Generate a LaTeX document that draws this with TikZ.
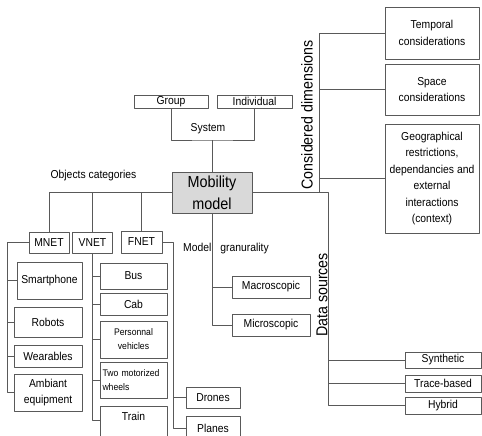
\documentclass[tikz,border=0pt]{standalone}
\usepackage{fontspec}
\setmainfont{Liberation Sans}[FakeStretch=0.9]
\newcommand\txtsize{\fontsize{11.5}{16.5}\selectfont}
\newcommand\smallsize{\fontsize{9.6}{14}\selectfont}
\newcommand\bigsize{\fontsize{16}{22}\selectfont}
\newcommand\rotsize{\fontsize{15.8}{18}\selectfont}
\colorlet{linegray}{black!65}
\tikzset{
  box/.style={draw=linegray, line width=.8pt, inner sep=1pt, align=center, font=\txtsize},
  wh/.style 2 args={minimum width=#1, minimum height=#2},
  link/.style={draw=linegray, line width=.8pt},
  lbl/.style={font=\txtsize, inner sep=0pt},
}
\begin{document}
\begin{tikzpicture}[x=1pt, y=-1pt, line join=round]
            \useasboundingbox (0,0) rectangle (482,436);
            \clip (0,0) rectangle (482,436);
            % root and system
            \node[box, wh={80}{41}, fill=black!15, font=\bigsize] (mob) at (212,192.5) {Mobility\\model};
            \node[box, wh={74}{13}] (group) at (171,101.5) {Group};
            \node[box, wh={75}{13}] (indiv) at (254.5,101.5) {Individual};
            \node[lbl] (syslbl) at (208,129) {System};
            \coordinate (sys) at (212,140);
            \draw[link] (group.south) |- (sys) -| (indiv.south);
            \draw[link] (sys) -- (mob.north);
            % objects categories
            \node[lbl] (objlbl) at (93.5,176) {Objects categories};
            \node[box, wh={40}{21}] (mnet) at (49,242.5) {MNET};
            \node[box, wh={40}{21}] (vnet) at (92.5,242.5) {VNET};
            \node[box, wh={41}{22}] (fnet) at (141.5,242) {FNET};
            \draw[link] (mob.west) -| (mnet.north);
            \draw[link] (vnet.north) -- (vnet.north |- mob.west);
            \draw[link] (fnet.north) -- (fnet.north |- mob.west);
            % MNET
            \node[box, wh={65}{37}] (smart) at (49.5,280.5) {Smartphone};
            \node[box, wh={68}{30}] (robots) at (48,322) {Robots};
            \node[box, wh={68}{22}] (wear) at (48,356) {Wearables};
            \node[box, wh={68}{37}] (ambiant) at (48,392.5) {Ambiant\\equipment};
            \coordinate (mtrunk) at (7,242.5);
            \draw[link] (mnet.west) -- (mtrunk) |- (ambiant.west);
            \foreach \n in {smart,robots,wear}
                \draw[link] (mtrunk |- \n.west) -- (\n.west);
            % VNET
            \node[box, wh={67}{26}] (bus) at (133.5,276) {Bus};
            \node[box, wh={67}{22}] (cab) at (133.5,304) {Cab};
            \node[box, wh={67}{37}, font=\smallsize] (pers) at (133.5,339.5) {Personnal\\vehicles};
            \node[box, wh={67}{36}, font=\smallsize, text width=62pt, align=left] (two) at (133.5,380) {Two motorized\\wheels};
            \node[box, wh={67}{26}, anchor=north, text height=13pt, text depth=30pt] (train) at (133.5,406) {Train};
            \coordinate (vtrain) at (92.5,420);
            \draw[link] (vnet.south) -- (vtrain) -- (vtrain -| train.west);
            \foreach \n in {bus,cab,pers,two}
                \draw[link] (vtrain |- \n.west) -- (\n.west);
            % FNET
            \node[box, wh={54}{21}] (drones) at (213,397.5) {Drones};
            \node[box, wh={54}{24}] (planes) at (213,428) {Planes};
            \coordinate (ftrunk) at (173,242);
            \draw[link] (fnet.east) -- (ftrunk) |- (planes.west);
            \draw[link] (ftrunk |- drones.west) -- (drones.west);
            % model granularity
            \node[lbl] (granlbl) at (226,249) {Model\hspace{9pt}granurality};
            \node[box, wh={78}{22}] (macro) at (271,287) {Macroscopic};
            \node[box, wh={78}{22}] (micro) at (271,325) {Microscopic};
            \draw[link] (mob.south) |- (micro.west);
            \draw[link] (mob.south |- macro.west) -- (macro.west);
            % considered dimensions
            \node[lbl, rotate=90, font=\rotsize] (cdlbl) at (307,115) {Considered dimensions};
            \node[box, wh={94}{52}] (temp) at (432,33) {Temporal\\considerations};
            \node[box, wh={94}{51}] (space) at (432,89.5) {Space\\considerations};
            \node[box, wh={94}{109}] (geo) at (432,178.5) {Geographical\\restrictions,\\dependancies and\\external\\interactions\\(context)};
            \coordinate (ccorner) at (319,192.5);
            \draw[link] (ccorner) |- (temp.west);
            \draw[link] (ccorner |- space.west) -- (space.west);
            \draw[link] (ccorner |- geo.west) -- (geo.west);
            % data sources
            \node[lbl, rotate=90, font=\rotsize] (dslbl) at (322,295) {Data sources};
            \node[box, wh={76}{16}] (syn) at (443,360) {Synthetic};
            \node[box, wh={76}{17}] (trace) at (443,383.5) {Trace-based};
            \node[box, wh={76}{17}] (hyb) at (443,405.5) {Hybrid};
            \coordinate (dcorner) at (328,192.5);
            \draw[link] (mob.east) -- (dcorner) |- (hyb.west);
            \draw[link] (dcorner |- syn.west) -- (syn.west);
            \draw[link] (dcorner |- trace.west) -- (trace.west);
        \end{tikzpicture}
\end{document}
